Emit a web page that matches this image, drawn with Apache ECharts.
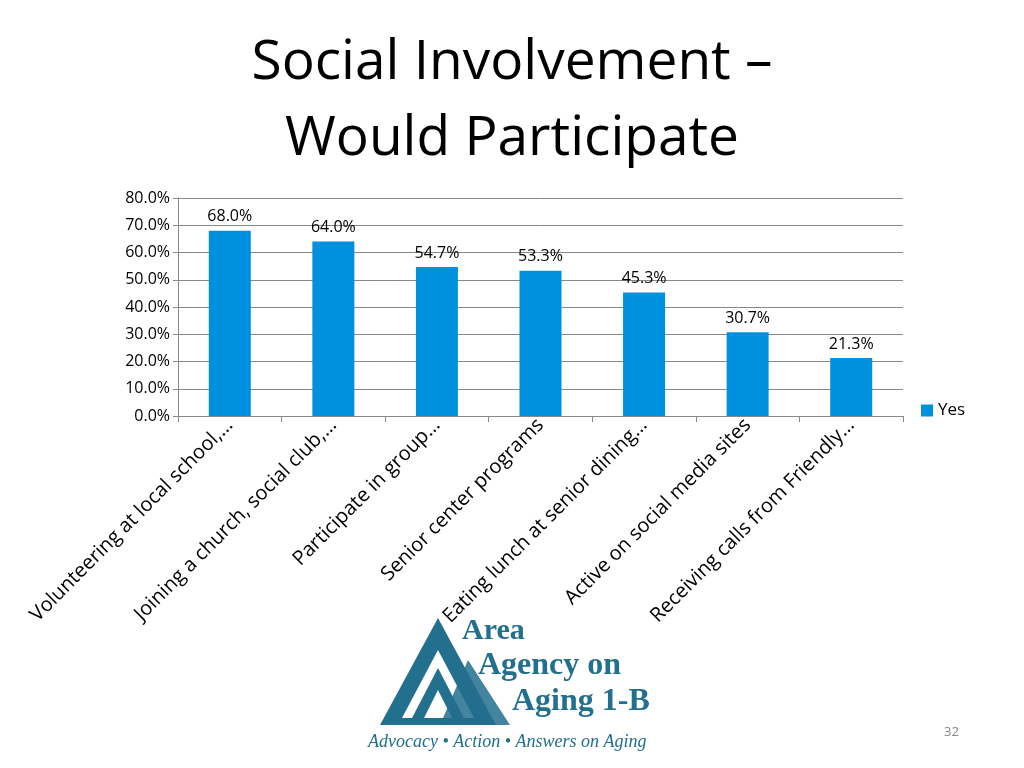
<!DOCTYPE html>
<html>
<head>
<meta charset="UTF-8">
<title>Social Involvement</title>
<script src="https://cdn.jsdelivr.net/npm/echarts@6/dist/echarts.min.js"></script>
<style>
  html, body { margin: 0; padding: 0; background: #fff; }
  #chart { width: 1024px; height: 768px; }
</style>
</head>
<body>
<div id="chart"></div>
<script>
const categories = [
  'Volunteering at local school,…',
  'Joining a church, social club,…',
  'Participate in group…',
  'Senior center programs',
  'Eating lunch at senior dining…',
  'Active on social media sites',
  'Receiving calls from Friendly…'
];
const yesValues = [68.0, 64.0, 54.7, 53.3, 45.3, 30.7, 21.3];

const chart = echarts.init(document.getElementById('chart'));
const font = 'Open Sans, Liberation Sans, sans-serif';
const teal = '#236f8e';

chart.setOption({
  animation: false,
  textStyle: { fontFamily: font },
  title: {
    text: 'Social Involvement –\nWould Participate',
    left: 'center', top: 20,
    textStyle: { fontSize: 55, fontWeight: 'normal', color: '#000', lineHeight: 76, fontFamily: font }
  },
  legend: {
    data: ['Yes'], orient: 'vertical', left: 916, top: 397,
    icon: 'rect', itemWidth: 12, itemHeight: 12, itemGap: 4,
    textStyle: { fontSize: 17, color: '#000' }
  },
  grid: { left: 178, right: 121, top: 198, bottom: 352 },
  xAxis: {
    type: 'category', data: categories,
    axisLine: { lineStyle: { color: '#888' } },
    axisTick: { show: true, lineStyle: { color: '#888' }, length: 6 },
    axisLabel: { rotate: 45, fontSize: 20, color: '#000', interval: 0, margin: 6 }
  },
  yAxis: {
    type: 'value', min: 0, max: 80, interval: 10,
    axisLine: { show: true, lineStyle: { color: '#888' } },
    axisTick: { show: true, lineStyle: { color: '#888' } },
    splitLine: { lineStyle: { color: '#888' } },
    axisLabel: { fontSize: 16, color: '#000', formatter: v => v.toFixed(1) + '%' }
  },
  series: [{
    name: 'Yes', type: 'bar', data: yesValues, barWidth: 42,
    itemStyle: { color: '#0090e0' },
    label: { show: true, position: 'top', fontSize: 16, color: '#000', distance: 6,
      formatter: p => p.value.toFixed(1) + '%' }
  }],
  graphic: [
    { type: 'polygon', shape: { points: [[438,618],[380,725],[496,725]] }, style: { fill: teal } },
    { type: 'polygon', shape: { points: [[438,650],[402,718],[474,718]] }, style: { fill: '#fff' } },
    { type: 'polygon', shape: { points: [[438,668],[412,718],[464,718]] }, style: { fill: teal } },
    { type: 'polygon', shape: { points: [[438,690],[424,718],[452,718]] }, style: { fill: '#fff' } },
    { type: 'polygon', shape: { points: [[468,660],[440,725],[510,725]] }, style: { fill: teal, opacity: 0.85 } },
    { type: 'text', left: 462, top: 616, style: { text: 'Area', font: 'bold 30px Liberation Serif, serif', fill: teal } },
    { type: 'text', left: 478, top: 650, style: { text: 'Agency on', font: 'bold 32px Liberation Serif, serif', fill: teal } },
    { type: 'text', left: 512, top: 686, style: { text: 'Aging 1-B', font: 'bold 32px Liberation Serif, serif', fill: teal } },
    { type: 'text', left: 368, top: 733, style: { text: 'Advocacy • Action • Answers on Aging', font: 'italic 18px Liberation Serif, serif', fill: teal } },
    { type: 'text', left: 944, top: 726, style: { text: '32', font: '13px ' + font, fill: '#888' } }
  ]
});
</script>
</body>
</html>
